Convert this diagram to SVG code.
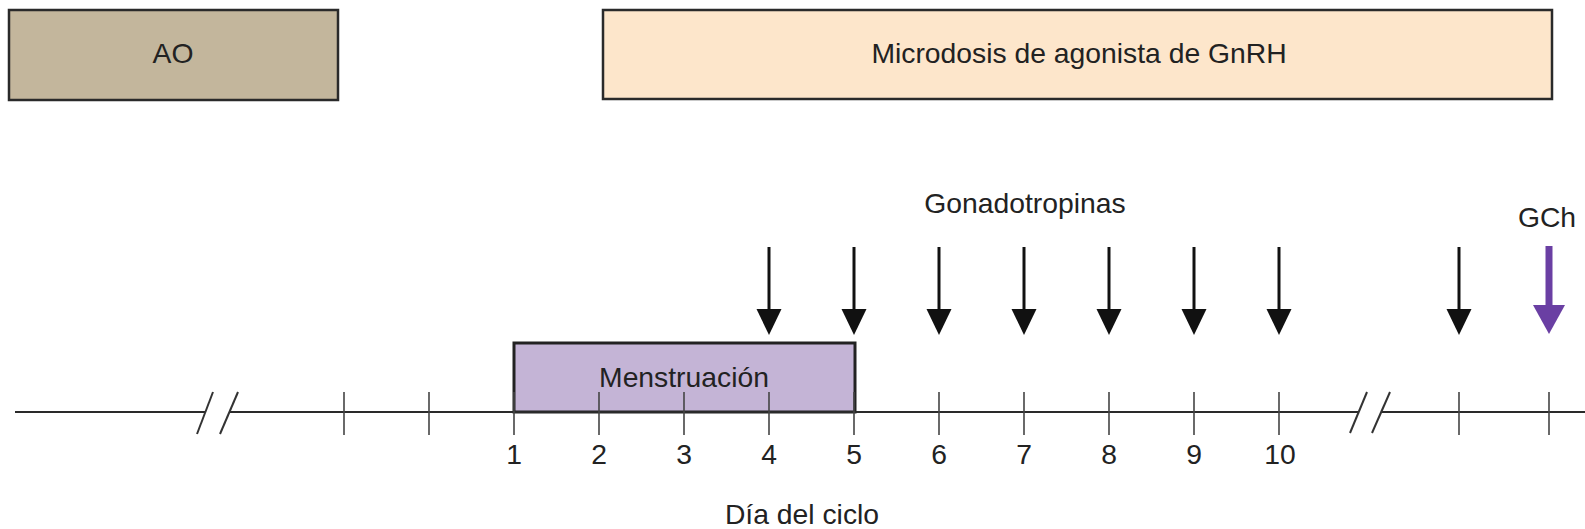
<svg xmlns="http://www.w3.org/2000/svg" width="1585" height="529" viewBox="0 0 1585 529">
<defs>
<style>
text{font-family:"Liberation Sans",Arial,sans-serif;font-size:28.3px;fill:#222;text-anchor:middle}
.box{stroke:#2a2a2a;stroke-width:2.5}
.axis{stroke:#2a2a2a;stroke-width:2;fill:none}
.tick{stroke:#444;stroke-width:1.6}
.slash{stroke:#333;stroke-width:2}
.shaft{stroke:#111;stroke-width:3}
.head{fill:#111}
.pshaft{stroke:#6a3fa3;stroke-width:7}
.phead{fill:#6a3fa3}
</style>
</defs>
<rect width="1585" height="529" fill="#ffffff"/>
<g id="ao">
<rect class="box" x="9" y="10" width="329" height="90" fill="#c3b69c"/>
<text x="173" y="63">AO</text>
</g>
<g id="microdosis">
<rect class="box" x="603" y="10" width="949" height="89" fill="#fde6cb"/>
<text x="1079" y="63">Microdosis de agonista de GnRH</text>
</g>
<g id="menstruacion">
<rect x="514" y="343" width="341" height="69" fill="#c4b4d6" stroke="#222" stroke-width="3"/>
</g>
<g id="axis">
<line class="axis" x1="15" y1="412" x2="205" y2="412"/>
<line class="axis" x1="229" y1="412" x2="1358" y2="412"/>
<line class="axis" x1="1381" y1="412" x2="1585" y2="412"/>
<line class="slash" x1="197" y1="434" x2="213" y2="392"/>
<line class="slash" x1="220" y1="434" x2="238" y2="392"/>
<line class="slash" x1="1350" y1="433" x2="1367" y2="392"/>
<line class="slash" x1="1372" y1="433" x2="1390" y2="392"/>
<g class="tick">
<line x1="344" y1="392" x2="344" y2="435"/>
<line x1="429" y1="392" x2="429" y2="435"/>
<line x1="514" y1="392" x2="514" y2="435"/>
<line x1="599" y1="392" x2="599" y2="435"/>
<line x1="684" y1="392" x2="684" y2="435"/>
<line x1="769" y1="392" x2="769" y2="435"/>
<line x1="854" y1="392" x2="854" y2="435"/>
<line x1="939" y1="392" x2="939" y2="435"/>
<line x1="1024" y1="392" x2="1024" y2="435"/>
<line x1="1109" y1="392" x2="1109" y2="435"/>
<line x1="1194" y1="392" x2="1194" y2="435"/>
<line x1="1279" y1="392" x2="1279" y2="435"/>
<line x1="1459" y1="392" x2="1459" y2="435"/>
<line x1="1549" y1="392" x2="1549" y2="435"/>
</g>
</g>
<text x="684" y="387">Menstruación</text>
<g id="labels">
<text x="514" y="464">1</text>
<text x="599" y="464">2</text>
<text x="684" y="464">3</text>
<text x="769" y="464">4</text>
<text x="854" y="464">5</text>
<text x="939" y="464">6</text>
<text x="1024" y="464">7</text>
<text x="1109" y="464">8</text>
<text x="1194" y="464">9</text>
<text x="1280" y="464">10</text>
<text x="802" y="524">Día del ciclo</text>
<text x="1025" y="213">Gonadotropinas</text>
<text x="1547" y="227">GCh</text>
</g>
<g id="connectors">
<g>
<line class="shaft" x1="769" y1="247" x2="769" y2="312"/><polygon class="head" points="756.5,309 781.5,309 769,335"/>
<line class="shaft" x1="854" y1="247" x2="854" y2="312"/><polygon class="head" points="841.5,309 866.5,309 854,335"/>
<line class="shaft" x1="939" y1="247" x2="939" y2="312"/><polygon class="head" points="926.5,309 951.5,309 939,335"/>
<line class="shaft" x1="1024" y1="247" x2="1024" y2="312"/><polygon class="head" points="1011.5,309 1036.5,309 1024,335"/>
<line class="shaft" x1="1109" y1="247" x2="1109" y2="312"/><polygon class="head" points="1096.5,309 1121.5,309 1109,335"/>
<line class="shaft" x1="1194" y1="247" x2="1194" y2="312"/><polygon class="head" points="1181.5,309 1206.5,309 1194,335"/>
<line class="shaft" x1="1279" y1="247" x2="1279" y2="312"/><polygon class="head" points="1266.5,309 1291.5,309 1279,335"/>
<line class="shaft" x1="1459" y1="247" x2="1459" y2="312"/><polygon class="head" points="1446.5,309 1471.5,309 1459,335"/>
</g>
<line class="pshaft" x1="1549" y1="246" x2="1549" y2="308"/><polygon class="phead" points="1533,305 1565,305 1549,334"/>
</g>
</svg>
